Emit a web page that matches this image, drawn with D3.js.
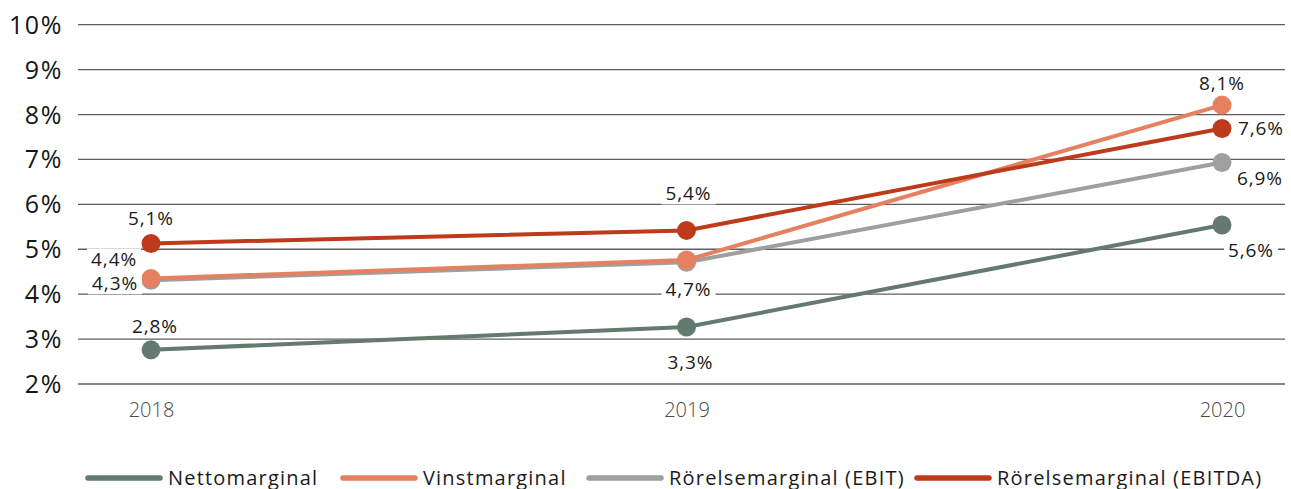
<!DOCTYPE html>
<html>
<head>
<meta charset="utf-8">
<script src="https://cdn.jsdelivr.net/npm/d3@7"></script>
<style>
  body { margin: 0; background: #fff; }
  svg { display: block; font-family: "Open Sans", "Noto Sans", sans-serif; }
</style>
</head>
<body>
<script>
// Chart data
const years = [2018, 2019, 2020];
const seriesNames = ["Nettomarginal", "Vinstmarginal", "Rörelsemarginal (EBIT)", "Rörelsemarginal (EBITDA)"];
const nettoValues = [2.76, 3.27, 5.54];
const vinstValues = [4.35, 4.76, 8.21];
const ebitValues = [4.31, 4.71, 6.93];
const ebitdaValues = [5.13, 5.42, 7.69];
const nettoLabels = ["2,8%", "3,3%", "5,6%"];
const vinstLabels = ["4,4%", "4,7%", "8,1%"];
const ebitLabels = ["4,3%", null, "6,9%"];
const ebitdaLabels = ["5,1%", "5,4%", "7,6%"];
const yTicks = [2, 3, 4, 5, 6, 7, 8, 9, 10];

const w = 1291, h = 489;
const colors = ["#647a6f", "#e58060", "#9da09d", "#bd3b1b"];

// label placement per series/year: [dx, dy, anchor]
const labelPos = [
  [[4, -17, "middle"], [4, 42, "middle"], [6, 32, "start"]],
  [[-14, -12, "end"], [2, 36, "middle"], [0, -15, "middle"]],
  [[-13, 10, "end"], [2, 34, "middle"], [15, 22, "start"]],
  [[0, -18, "middle"], [2, -30, "middle"], [16, 7, "start"]]
];

const series = [
  { name: seriesNames[0], values: nettoValues, labels: nettoLabels, color: colors[0], pos: labelPos[0] },
  { name: seriesNames[1], values: vinstValues, labels: vinstLabels, color: colors[1], pos: labelPos[1] },
  { name: seriesNames[2], values: ebitValues, labels: ebitLabels, color: colors[2], pos: labelPos[2] },
  { name: seriesNames[3], values: ebitdaValues, labels: ebitdaLabels, color: colors[3], pos: labelPos[3] }
];
// drawing order: netto, ebit, vinst, ebitda
const drawOrder = [0, 2, 1, 3];

const svg = d3.select("body").append("svg")
  .attr("width", w)
  .attr("height", h);

const xScale = d3.scaleLinear()
  .domain([2018, 2020])
  .range([151, 1222]);

const yScale = d3.scaleLinear()
  .domain([2, 10])
  .range([384, 24.7]);

// Gridlines
svg.append("g")
  .selectAll("line")
  .data(yTicks)
  .enter()
  .append("line")
  .attr("x1", 78)
  .attr("x2", 1285)
  .attr("y1", d => yScale(d))
  .attr("y2", d => yScale(d))
  .attr("stroke", "#5e5e5e")
  .attr("stroke-width", 1.3);

// Y axis labels
const yAxis = svg.append("g")
  .attr("transform", "translate(63,0)")
  .call(d3.axisLeft(yScale).tickValues(yTicks).tickSize(0).tickPadding(0).tickFormat(d => d + "%"));
yAxis.select(".domain").remove();
yAxis.selectAll("text")
  .attr("font-family", "\"Open Sans\", sans-serif")
  .attr("font-size", 25)
  .attr("letter-spacing", 1.6)
  .attr("fill", "#161616")
  .attr("dy", "0.34em");

// X axis labels
const xAxis = svg.append("g")
  .attr("transform", "translate(0,410)")
  .call(d3.axisBottom(xScale).tickValues(years).tickSize(0).tickPadding(0).tickFormat(d3.format("d")));
xAxis.select(".domain").remove();
xAxis.selectAll("text")
  .attr("font-family", "\"Open Sans\", sans-serif")
  .attr("font-size", 20)
  .attr("font-weight", 300)
  .attr("fill", "#4a4a4a")
  .attr("dy", "0.36em");

const line = d3.line()
  .x((d, i) => xScale(years[i]))
  .y(d => yScale(d));

// Lines and markers
drawOrder.forEach(k => {
  const s = series[k];
  svg.append("path")
    .datum(s.values)
    .attr("d", line)
    .attr("fill", "none")
    .attr("stroke", s.color)
    .attr("stroke-width", 4);
  svg.append("g")
    .selectAll("circle")
    .data(s.values)
    .enter()
    .append("circle")
    .attr("cx", (d, i) => xScale(years[i]))
    .attr("cy", d => yScale(d))
    .attr("r", 9.5)
    .attr("fill", s.color);
});

// Data labels with white background
const labelLayer = svg.append("g");
series.forEach(s => {
  s.values.forEach((v, i) => {
    if (!s.labels[i]) return;
    const p = s.pos[i];
    const g = labelLayer.append("g");
    const t = g.append("text")
      .attr("x", xScale(years[i]) + p[0])
      .attr("y", yScale(v) + p[1])
      .attr("text-anchor", p[2])
      .attr("font-size", 19)
      .attr("letter-spacing", 0.9)
      .attr("fill", "#1a1a1a")
      .text(s.labels[i]);
    const bb = t.node().getBBox();
    g.insert("rect", "text")
      .attr("x", bb.x - 4)
      .attr("y", bb.y + 2)
      .attr("width", bb.width + 8)
      .attr("height", bb.height - 4)
      .attr("fill", "#fff");
  });
});

// Legend
const legendX = [88, 343, 589, 917];
const legend = svg.append("g");
series.forEach((s, i) => {
  legend.append("line")
    .attr("x1", legendX[i])
    .attr("x2", legendX[i] + 72)
    .attr("y1", 478)
    .attr("y2", 478)
    .attr("stroke", s.color)
    .attr("stroke-width", 5.5)
    .attr("stroke-linecap", "round");
  legend.append("text")
    .attr("x", legendX[i] + 80)
    .attr("y", 485)
    .attr("font-size", 20)
    .attr("letter-spacing", 1.2)
    .attr("fill", "#1a1a1a")
    .text(s.name);
});
</script>
</body>
</html>
